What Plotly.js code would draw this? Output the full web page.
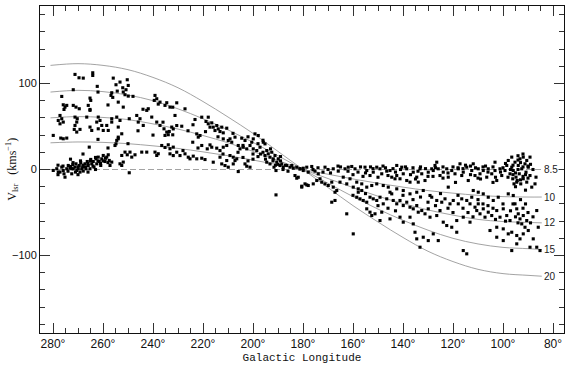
<!DOCTYPE html>
<html>
<head>
<meta charset="utf-8">
<script src="https://cdn.plot.ly/plotly-3.0.1.min.js"></script>
<style>html,body{margin:0;padding:0;background:#fff;}#chart{width:570px;height:366px;}</style>
</head>
<body>
<div id="chart"></div>
<script>
// ---- Data: galactic longitude (deg) and V_lsr (km/s) of the plotted objects ----
const lonA = [271.2,269.6,267.9,264.1,264.1,271.9,262.3,255.9,254.8,253.2,
252.1,250.3,249.9,250.8,251.9,254.3,256.5,256.8,256.1,251.2,
249.9,265.2,264.9,276.5,239.2,238.5,239.5,237.2,235.2,234.5,
237.9,233.2];
const velA = [110.5,106.6,106.2,112.4,109.3,92.7,96.6,106.2,98.5,101.6,
95.0,104.3,97.7,92.7,90.0,91.1,89.2,86.1,83.8,86.9,
85.3,83.0,80.3,84.9,86.1,82.2,80.3,78.3,74.5,77.6,
76.0,72.5];

const lonB = [275.9,275.2,275.6,274.5,271.9,270.8,269.5,265.9,265.2,271.2,
270.3,270.5,271.2,271.5,270.5,269.2,277.2,276.5,277.9,275.9,
277.2,266.5,265.2,261.9,261.2,262.5,260.5,258.5,257.9,259.9,
261.9,256.5,256.5,254.5,253.2,253.9,252.5,253.9,254.8,253.9,
251.9,253.9,249.5,246.5,245.2,245.9,243.9,242.5,241.9,240.5,
238.5,237.2,235.6,234.5,233.9,235.2,233.5,232.5,279.9,276.9,
275.9,274.5,265.5,265.2,264.5];
const velB = [75.2,72.5,69.8,74.5,74.5,72.5,70.6,74.5,69.8,60.9,
59.0,55.1,51.2,46.6,43.5,46.6,62.8,59.0,57.0,55.1,
53.1,60.9,68.7,60.9,57.0,55.1,51.2,51.2,45.4,45.4,
47.3,59.0,55.1,60.9,57.0,49.3,41.5,35.7,29.9,37.6,
72.5,78.3,59.0,62.8,59.0,55.1,51.2,68.7,70.6,60.9,
55.1,51.2,47.3,43.5,40.4,39.6,44.2,49.3,39.6,36.5,
35.7,36.5,26.0,49.3,45.4];

const lonC = [254.5,255.2,250.3,249.2,247.2,248.5,251.9,253.2,252.5,244.5,
242.5,239.2,238.5,237.9,236.5,235.2,233.9,233.2,231.9,252.5,
251.2,249.5];
const velC = [33.8,27.9,17.1,20.2,17.1,14.4,8.6,6.6,4.7,20.2,
20.2,20.2,16.3,18.3,27.9,25.6,28.7,24.1,26.0,16.3,
20.2,-3.8];

const lonD = [279.9,278.5,277.9,276.5,275.9,275.6,274.5,273.9,273.2,272.5,
272.1,271.9,271.2,270.8,270.5,269.9,269.5,268.9,268.5,268.1,
267.9,267.2,266.8,266.3,265.9,265.2,264.9,264.5,263.9,263.6,
262.8,262.5,261.9,261.5,260.9,260.5,259.9,259.2,258.5,257.9,
257.5,256.5,257.2,269.2,272.5,275.2,277.2,274.0,273.0,271.0,
270.0,269.0,268.0,267.0,266.0,265.0,264.0,263.0,262.0,261.0,
260.0,259.0,258.0,263.0,266.0,272.0,276.0,278.0,270.0];
const velD = [-1.1,0.9,-3.0,2.8,-1.1,-5.0,0.9,4.7,1.6,0.9,
5.5,0.8,2.8,6.6,-1.1,0.8,4.7,7.8,0.9,2.8,
-1.8,6.6,0.8,9.3,4.7,0.9,11.7,6.6,9.3,2.8,
12.4,6.6,14.4,9.3,4.7,12.4,16.3,9.3,14.4,17.1,
10.5,8.6,4.7,-3.0,-5.0,-8.9,-3.0,-2.0,3.5,-3.0,
3.0,10.0,5.0,3.0,7.0,10.0,4.0,14.0,10.0,7.0,
10.0,13.0,8.0,0.0,-3.0,8.0,4.0,-6.0,-6.0];

const lonE = [230.5,232.1,227.2,231.2,231.9,230.5,228.5,232.1,231.9,233.2,
230.5,218.8,217.9,216.5,215.9,214.5,213.9,213.2,212.5,211.9,
210.5,215.2,217.2,220.5,217.9,223.2,222.5,221.2,221.9,224.1,
220.5,217.2,216.5,218.3,214.5,213.2,211.9,210.5,209.2,209.9,
208.5,207.2,205.9,205.2,203.9,202.5,201.2,199.9,200.5,198.5,
197.2,195.9,195.2,194.5,193.9,195.2,193.2,192.5,191.9,191.2,
190.5,189.9,189.2,188.5,187.9,190.8,191.6,193.2,194.5,186.5,
185.2,183.9,184.5,182.5,181.2,179.9,183.2,182.5,181.9,180.5,
178.5,190.8,229.2,227.2,225.9,225.2,223.9,222.5,220.5,219.2,
207.9,207.2,206.5,207.9,203.2,202.5,201.2,205.9,209.9,211.2,
210.5,209.2,212.5,213.2,215.9,204.5,203.2,199.9,197.9,211.9,
196.0,199.2,192.0,190.0,189.0,188.0,187.0,186.0,196.0,198.0,
200.0,204.0,202.0];
const velE = [77.5,72.4,70.5,62.8,47.2,51.1,50.3,40.3,16.2,18.2,
20.1,55.8,53.1,54.2,49.2,51.1,47.2,44.1,49.2,42.6,
48.0,45.3,49.2,60.8,60.8,58.1,41.4,39.5,37.6,31.7,
27.9,28.6,25.9,24.0,24.8,22.0,25.9,27.9,35.6,33.7,
31.7,37.6,27.9,24.0,25.9,24.0,27.9,24.0,31.7,22.0,
25.9,31.7,29.8,22.0,18.2,16.2,14.3,20.1,12.4,16.2,
8.5,12.4,4.6,6.5,2.7,-1.2,2.7,6.5,8.5,4.6,
2.7,1.5,4.6,2.7,0.7,1.5,-7.0,-10.1,-9.0,-19.4,
-17.9,-29.5,16.2,18.2,14.3,12.4,15.5,12.4,13.1,11.6,
14.3,10.4,12.4,6.5,6.5,3.8,2.7,-2.4,2.7,4.6,
10.4,16.2,6.5,14.3,8.5,36.4,33.7,35.6,39.5,35.6,
34.0,41.4,10.0,6.0,10.0,0.0,5.0,-2.0,20.0,15.0,
18.0,14.0,10.0];

const lonF = [181.2,179.9,178.5,177.9,176.5,175.2,173.9,173.2,174.5,172.5,
171.2,169.9,168.5,167.9,166.5,167.2,168.5,167.2,162.5,159.9,
179.2,177.9,175.9,180.5,171.2,167.9,165.9,163.2,161.9,160.5,
159.2,163.9,161.2,158.5,159.9,157.9,156.5,155.2,154.5,153.2,
151.9,150.5,149.2,148.5,146.5,145.2,144.5,143.2,142.5,141.2,
139.9,138.5,137.2,135.9,134.5,133.9,132.5,131.2,129.9,128.5,
140.5,138.5,142.5,133.2,158.5,157.2,155.9,154.5,153.2,151.9,
150.5,149.2,147.9,146.5,145.2,144.5,143.9,142.5,141.2,139.9,
138.5,137.2,135.9,134.5,133.9,132.5,131.2,129.9,129.2,154.5,
153.2,152.5,151.2,148.5,149.2,145.2,141.2,139.9,137.2,135.9,
135.2,134.5,131.9,129.9,133.2,165.2,162.5,157.9,156.5,154.5,
152.5,150.5,147.9,145.9,142.5,139.9,137.2,134.5,131.9,129.2,
170.0,172.0,176.0,165.0,158.0,157.0,152.0,147.0,144.0,136.0,
131.0,134.0,150.0,156.0];
const velF = [0.8,-1.2,2.7,-3.1,3.5,-1.9,-5.0,-10.8,-12.8,-14.7,
-16.7,-18.6,-14.7,-20.5,-24.4,-26.4,-38.0,-36.0,-51.5,-74.8,
-16.7,-18.6,-16.7,-20.5,2.7,0.8,-1.9,0.8,2.7,3.5,
0.8,-8.9,-10.8,-14.7,-20.5,-22.5,-16.7,2.7,-1.2,-7.0,
-3.1,2.7,0.8,-5.0,-1.9,-1.2,-8.9,-10.8,-7.0,-10.8,
-5.0,-12.8,-14.7,-3.1,-8.9,-14.7,-5.0,-12.8,-3.1,0.8,
2.7,0.8,4.7,0.8,-32.2,-34.1,-36.0,-38.0,-32.2,-34.1,
-36.0,-32.2,-39.9,-34.1,-26.4,-28.3,-36.0,-39.9,-36.0,-41.9,
-38.0,-43.8,-45.7,-41.9,-49.6,-47.7,-51.5,-45.7,-55.4,-45.7,
-49.6,-53.5,-51.5,-49.6,-59.3,-57.4,-55.4,-61.2,-55.4,-63.2,
-72.9,-80.6,-78.7,-82.6,-90.3,-14.7,-16.7,-26.4,-24.4,-20.5,
-18.6,-16.7,-18.6,-20.5,-22.5,-24.4,-28.3,-26.4,-24.4,-30.2,
0.0,-3.0,0.0,3.0,-3.0,3.0,1.0,2.0,1.0,2.0,
1.0,-2.0,-9.0,-8.0];

const lonG = [127.9,125.9,125.2,123.9,122.5,121.9,120.5,119.2,117.9,116.5,
115.9,114.5,113.9,112.5,111.2,109.9,109.2,107.9,106.5,105.9,
104.5,103.2,102.5,101.2,100.5,99.2,98.5,97.9,97.2,96.5,
95.9,95.2,94.8,94.5,93.9,93.5,93.2,92.9,92.5,91.9,
91.2,90.8,90.5,89.9,89.2,89.2,88.5,90.5,91.9,94.3,
96.1,95.6,96.5,127.2,126.5,117.2,111.9,103.2,128.5,126.5,
124.5,123.2,121.2,119.9,117.9,116.5,114.5,113.2,112.5,111.2,
110.5,109.9,109.2,107.9,107.2,105.9,104.5,102.5,101.2,99.9,
98.5,97.2,95.2,94.5,93.9,93.2,92.5,91.9,91.2,90.5,
89.9,91.9,93.2,94.5,89.2,96.5,111.9,109.9,107.9,105.9,
121.9,123.9,122.5,120.5,118.5,115.9,114.5,102.5,99.9,97.9,
86.5,87.9,85.2,85.9,86.5,87.2,86.8,126.5,127.9,125.9,
125.2,118.5,115.9,113.2,105.2,102.5,99.9,96.5,94.5,97.9,
95.9,101.9,103.9,92.0,94.0,90.0,92.0,93.0,95.0,91.0,
96.0,98.0,100.0,104.0,108.0,110.0,113.0,116.0,120.0,124.0,
128.0,119.0,104.0];
const velG = [-1.2,0.8,-7.0,-3.1,0.8,-8.9,-1.2,-5.0,0.8,-7.0,
-3.1,2.7,-12.8,-1.2,-7.0,0.8,-5.0,-1.2,-8.9,0.8,
-5.0,-1.2,-12.8,0.8,-7.0,-1.2,4.7,10.5,-5.0,2.7,
-1.2,8.5,-8.9,-14.7,4.7,-5.0,12.4,-16.7,0.8,-10.8,
6.6,-3.1,-14.7,2.7,14.4,-7.0,-20.5,10.5,14.4,-12.8,
-10.8,-16.7,14.4,4.7,8.5,6.6,6.6,8.5,-32.2,-36.0,
-38.0,-34.1,-39.9,-36.0,-39.9,-34.1,-36.0,-39.9,-32.2,-43.8,
-47.7,-39.9,-51.5,-45.7,-55.4,-49.6,-53.5,-47.7,-55.4,-45.7,
-53.5,-59.3,-39.9,-45.7,-51.5,-57.4,-63.2,-53.5,-67.1,-59.3,
-70.9,-74.8,-80.6,-86.4,-90.3,-94.2,-24.4,-26.4,-28.3,-32.2,
-20.5,-61.2,-65.1,-67.1,-72.9,-94.2,-98.0,-78.7,-82.6,-74.8,
-90.3,-80.6,-94.2,-67.1,-47.7,-16.7,-8.9,-53.5,-74.8,-82.6,
-47.7,-59.3,-55.4,-61.2,-70.9,-67.1,-69.0,-72.9,-76.7,-28.3,
-30.2,-32.2,-36.0,18.0,16.0,4.0,-8.0,-12.0,-20.0,-24.0,
5.0,-9.0,2.0,3.0,3.0,-10.0,4.0,1.0,3.0,3.0,
-8.0,-15.0,-15.0];

const lonH = [174,169,166,162,160,155,153,148,146,143,
141,139,137,135,133,130,127,124,122,118,
115,113,111,109,107,106,103,101,99,97,
96,94,93,92,91,90,89,88,94,95];
const velH = [2,-4,4,-2,-6,-4,3,4,-7,-3,
0,3,-6,-11,3,-8,2,-10,-4,2,
5,-6,2,-11,4,-3,-9,-3,7,0,
-6,0,8,3,-6,-10,6,0,11,-4];

const lonI = [160,155,150,146,143,140,136,133,130,127,
125,122,120,118,116,114,112,110,108,106,
104,103,100,99,97,96,95,94,93,92,
91,90,89,88];
const velI = [-30,-28,-42,-45,-48,-30,-35,-32,-38,-42,
-28,-45,-50,-30,-45,-50,-55,-35,-40,-42,
-45,-58,-40,-60,-48,-40,-55,-62,-35,-45,
-40,-50,-62,-55];

const lonJ = [228,226,224,222,219,214,212,208,206,204,
202,200,198,197,195,193,191,189];
const velJ = [22,45,52,25,44,38,18,42,20,28,
38,12,30,18,12,24,5,15];

const lonK = [262,258,248,244,240,236,246,250,258,262,268,273,278];
const velK = [90,75,85,70,40,55,45,30,25,35,18,12,5];

// ---- Model curves for galactocentric radius R ----
const curveLon = [281,270,260,250,240,230,220,210,200,190,180,170,160,150,140,130,120,110,100,90,84.5];
const curveR10 = [31,32,31.5,30,27.5,24.5,20.5,16,11,5.5,0,-5.5,-11,-16,-20.5,-24.5,-27.5,-30,-31.5,-32,-32];
const curveR12 = [60,61.5,60.5,58,53,47,39.5,31,21,10.5,0,-10.5,-21,-31,-39.5,-47,-53,-58,-60.5,-61.5,-62];
const curveR15 = [90,92,90.5,86.5,80,70.5,59,46,31.5,16,0,-16,-31.5,-46,-59,-70.5,-80,-86.5,-90.5,-92,-93];
const curveR20 = [121,123,121,116,107,95,79,61,42,21,0,-21,-42,-61,-79,-95,-107,-116,-121,-123,-124];
const solarLon = [285.2, 75.6];
const solarVel = [0, 0];
const curveLabels = ['8.5','10','12','15','20'];

// ---- Tick labels ----
const xTickVals = [280,260,240,220,200,180,160,140,120,100,80];
const xTickText = ['280°','260°','240°','220°','200°','180°','160°','140°','120°','100°','80°'];
const yTickVals = [-100,0,100];
const yTickText = ['\u2212100','0','100'];

const lonAll = [].concat(lonA, lonB, lonC, lonD, lonE, lonF, lonG, lonH, lonI, lonJ, lonK);
const velAll = [].concat(velA, velB, velC, velD, velE, velF, velG, velH, velI, velJ, velK);

const curveStyle = {color:'#8c8c8c', width:0.8, shape:'spline'};
const traces = [
  {x: solarLon, y: solarVel, mode:'lines', line:{color:'#8c8c8c', width:0.8, dash:'6px,3px'}, hoverinfo:'skip'},
  {x: curveLon, y: curveR10, mode:'lines', line:curveStyle, hoverinfo:'skip'},
  {x: curveLon, y: curveR12, mode:'lines', line:curveStyle, hoverinfo:'skip'},
  {x: curveLon, y: curveR15, mode:'lines', line:curveStyle, hoverinfo:'skip'},
  {x: curveLon, y: curveR20, mode:'lines', line:curveStyle, hoverinfo:'skip'},
  {x: lonAll, y: velAll, mode:'markers', type:'scatter',
   marker:{color:'#000', size:3.1, symbol:'square', line:{width:0}}}
];

const labelEnds = [0, curveR10[curveR10.length-1], curveR12[curveR12.length-1], curveR15[curveR15.length-1], curveR20[curveR20.length-1]];
const annotations = curveLabels.map((t, i) => ({
  x: 84.2, y: labelEnds[i], xref:'x', yref:'y', text: t, showarrow:false,
  xanchor:'left', yanchor:'middle', bgcolor: i === 0 ? '#fff' : 'rgba(0,0,0,0)',
  borderpad: 0, font:{family:'Liberation Sans', size:10, color:'#222'}
}));
annotations.push({
  xref:'paper', yref:'paper', x:-0.053, y:0.5, textangle:-90, showarrow:false,
  xanchor:'center', yanchor:'middle',
  text:'V<sub>lsr</sub>   (kms<sup>\u22121</sup>)',
  font:{family:'Liberation Serif', size:12, color:'#111'}
});

const layout = {
  width:570, height:366,
  margin:{l:40, r:6, t:6, b:33},
  paper_bgcolor:'#fff', plot_bgcolor:'#fff',
  showlegend:false,
  xaxis:{
    range:[285.2, 75.6], showgrid:false, zeroline:false,
    showline:true, linecolor:'#111', linewidth:1, mirror:'ticks',
    ticks:'inside', ticklen:10, tickwidth:1, tickcolor:'#333',
    tickmode:'array', tickvals:xTickVals, ticktext:xTickText,
    minor:{ticks:'inside', ticklen:5, tickwidth:1, tickcolor:'#333', tickmode:'linear', tick0:0, dtick:5, showgrid:false},
    tickfont:{family:'Liberation Sans', size:12, color:'#111'},
    title:{text:'Galactic Longitude', standoff:2, font:{family:'Liberation Mono', size:11, color:'#111'}}
  },
  yaxis:{
    range:[-190, 190], showgrid:false, zeroline:false,
    showline:true, linecolor:'#111', linewidth:1, mirror:'ticks',
    ticks:'inside', ticklen:10, tickwidth:1, tickcolor:'#333',
    tickmode:'array', tickvals:yTickVals, ticktext:yTickText,
    minor:{ticks:'inside', ticklen:5, tickwidth:1, tickcolor:'#333', tickmode:'linear', tick0:0, dtick:20, showgrid:false},
    tickfont:{family:'Liberation Sans', size:11, color:'#111'}
  },
  annotations: annotations
};

Plotly.newPlot('chart', traces, layout, {staticPlot:true, displayModeBar:false});
</script>
</body>
</html>
